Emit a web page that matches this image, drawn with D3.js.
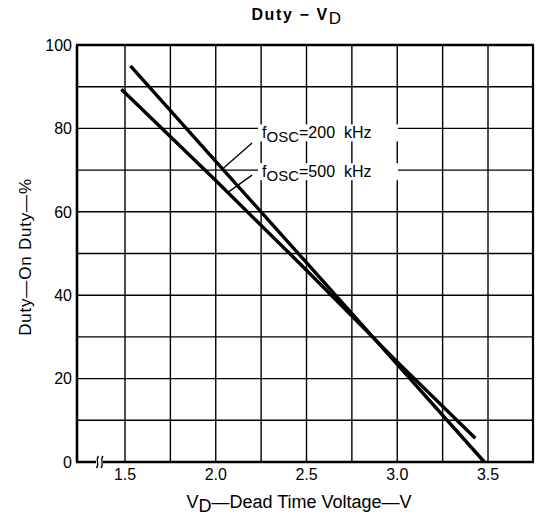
<html lang="en">
<head>
    <meta charset="utf-8">
    <title>Duty - VD</title>
    <script src="https://cdn.jsdelivr.net/npm/d3@7"></script>
    <style>
        body { margin: 0; background: #fff; }
        text { font-family: "Liberation Sans", Arial, sans-serif; fill: #000; }
        .grid line { stroke: #000; stroke-width: 1.4px; }
        .curve { fill: none; stroke: #000; stroke-width: 3.4px; stroke-linecap: butt; }
    </style>
</head>
<body>
    <svg width="536" height="520"></svg>
    <script>
        // readings
        var vd200 = [1.53, 2.0, 2.5, 3.0, 3.48];
        var duty200 = [95, 72.1, 47.8, 23.4, 0];
        var vd500 = [1.48, 2.0, 2.5, 3.0, 3.43];
        var duty500 = [89.4, 67.5, 46.0, 24.0, 5.7];

        var xTicks = [1.5, 2.0, 2.5, 3.0, 3.5];
        var xGrid = [1.5, 1.75, 2.0, 2.25, 2.5, 2.75, 3.0, 3.25, 3.5];
        var yTicks = [0, 20, 40, 60, 80, 100];
        var yGrid = [10, 20, 30, 40, 50, 60, 70, 80, 90];

        // labels: text anchor (V, duty) and leader from -> to
        var labelFreq = ["200", "500"];
        var labelAt = [[2.255, 77.6], [2.255, 68.3]];
        var leaderFrom = [[2.20, 76.5], [2.20, 68.8]];
        var leaderTo = [[2.04, 70.4], [2.065, 64.6]];

        var svg = d3.select("svg"),
            pLeft = 77, pRight = 533, pTop = 45, pBottom = 462;

        // axis is broken left of 1.5, so the scale is pinned on the ticks
        var x = d3.scaleLinear().domain([1.5, 3.5]).range([125, 488]),
            y = d3.scaleLinear().domain([0, 100]).range([pBottom, pTop]);

        var grid = svg.append("g").attr("class", "grid");
        grid.selectAll(".v").data(xGrid).enter().append("line")
            .attr("x1", function(d) { return x(d); })
            .attr("x2", function(d) { return x(d); })
            .attr("y1", pTop).attr("y2", pBottom);
        grid.selectAll(".h").data(yGrid).enter().append("line")
            .attr("x1", pLeft).attr("x2", pRight)
            .attr("y1", function(d) { return y(d); })
            .attr("y2", function(d) { return y(d); });

        // frame
        var frame = svg.append("g").attr("stroke", "#000").attr("fill", "none");
        frame.append("line").attr("x1", pLeft - 1).attr("x2", pRight + 1).attr("y1", pTop).attr("y2", pTop).attr("stroke-width", 2.6);
        frame.append("line").attr("x1", pLeft - 1).attr("x2", pRight + 1).attr("y1", pBottom).attr("y2", pBottom).attr("stroke-width", 2.6);
        frame.append("line").attr("x1", pLeft).attr("x2", pLeft).attr("y1", pTop).attr("y2", pBottom).attr("stroke-width", 2.6);
        frame.append("line").attr("x1", pRight).attr("x2", pRight).attr("y1", pTop).attr("y2", pBottom).attr("stroke-width", 2.2);

        // axis break
        svg.append("rect").attr("x", 96).attr("y", pBottom - 3).attr("width", 7).attr("height", 6).attr("fill", "#fff");
        [97, 101.5].forEach(function(bx) {
            svg.append("path")
                .attr("d", "M" + (bx + 1.5) + "," + (pBottom - 6) + " C" + (bx - 2) + "," + (pBottom - 2) + " " + (bx + 3) + "," + (pBottom + 2) + " " + (bx - 0.5) + "," + (pBottom + 6))
                .attr("fill", "none").attr("stroke", "#000").attr("stroke-width", 1.3);
        });

        // labels with white band behind
        labelFreq.forEach(function(f, i) {
            var px = x(labelAt[i][0]), py = y(labelAt[i][1]);
            svg.append("rect").attr("x", px - 4).attr("y", py - 14).attr("width", 140).attr("height", 17).attr("fill", "#fff");
            var t = svg.append("text").attr("x", px).attr("y", py).style("font-size", "16px");
            t.append("tspan").text("f");
            t.append("tspan").attr("dy", 4).style("font-size", "15px").text("OSC");
            t.append("tspan").attr("dy", -4).text("=" + f + "\u00a0\u00a0kHz");
            svg.append("line")
                .attr("x1", x(leaderFrom[i][0])).attr("y1", y(leaderFrom[i][1]))
                .attr("x2", x(leaderTo[i][0])).attr("y2", y(leaderTo[i][1]))
                .attr("stroke", "#000").attr("stroke-width", 1.3);
        });

        var line = d3.line()
            .x(function(d) { return x(d[0]); })
            .y(function(d) { return y(d[1]); });

        svg.append("path").attr("class", "curve")
            .attr("d", line(d3.zip(vd200, duty200)));
        svg.append("path").attr("class", "curve")
            .attr("d", line(d3.zip(vd500, duty500)));

        // tick labels
        svg.selectAll(".yt").data(yTicks).enter().append("text")
            .attr("x", 72).attr("y", function(d) { return y(d); })
            .attr("dy", "0.36em").attr("text-anchor", "end")
            .style("font-size", "16px")
            .text(function(d) { return d; });
        svg.selectAll(".xt").data(xTicks).enter().append("text")
            .attr("x", function(d) { return x(d); }).attr("y", 480)
            .attr("text-anchor", "middle")
            .style("font-size", "16px")
            .text(function(d) { return d.toFixed(1); });

        // title
        var title = svg.append("text").attr("x", 297).attr("y", 20)
            .attr("text-anchor", "middle").style("font-size", "16px")
            .style("font-weight", "bold").style("letter-spacing", "1.6px");
        title.append("tspan").text("Duty \u2212 V");
        title.append("tspan").attr("dy", 4).style("font-size", "17px").style("font-weight", "normal").text("D");

        // x label
        var xl = svg.append("text").attr("x", 299).attr("y", 508)
            .attr("text-anchor", "middle").style("font-size", "18px");
        xl.append("tspan").text("V");
        xl.append("tspan").attr("dy", 4).text("D");
        xl.append("tspan").attr("dy", -4).text("\u2014Dead Time Voltage\u2014V");

        // y label
        svg.append("text")
            .attr("transform", "translate(25,257) rotate(-90)")
            .attr("text-anchor", "middle").attr("dy", "0.35em")
            .style("font-size", "17px").style("letter-spacing", "0.8px")
            .text("Duty\u2014On Duty\u2014%");
    </script>
</body>
</html>
